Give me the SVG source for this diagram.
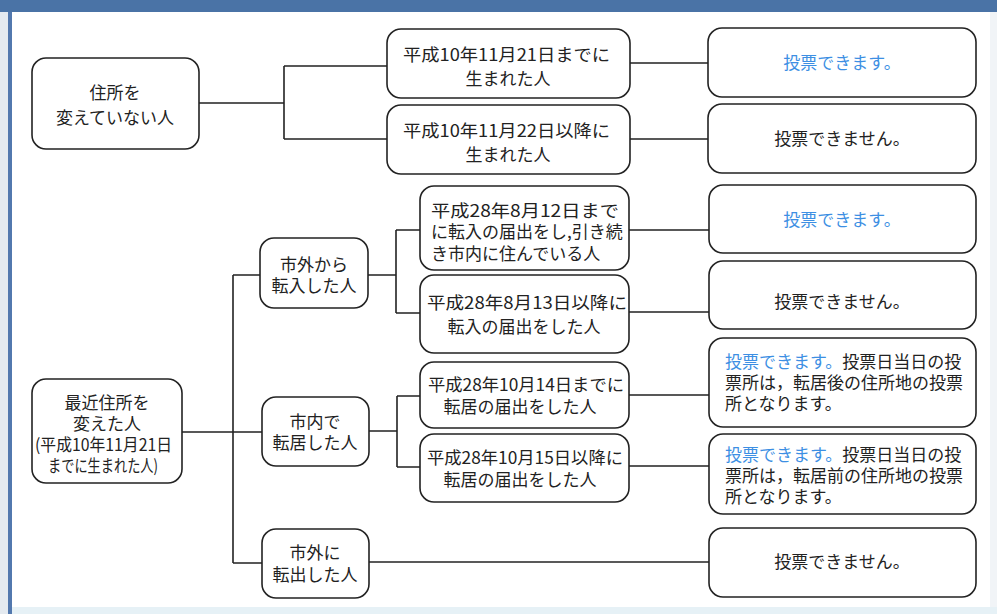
<svg xmlns="http://www.w3.org/2000/svg" width="997" height="614" viewBox="0 0 997 614">
<style>
.box{fill:#fff;stroke:#222;stroke-width:1.6}
.t{font-family:"Noto Sans CJK JP","Noto Sans CJK SC",sans-serif;font-size:17px;fill:#222}
.c{text-anchor:middle}
.blue{fill:#3d8fe3}
.con{fill:none;stroke:#222;stroke-width:1.6}
</style>
<rect x="0" y="0" width="997" height="614" fill="#fff"/>
<rect x="0" y="0" width="997" height="12" fill="#4a73a6"/>
<rect x="0" y="12" width="8" height="602" fill="#e4eaf0"/>
<rect x="8" y="12" width="4" height="602" fill="#5278ae"/>
<rect x="990" y="12" width="7" height="602" fill="#f1f4f7"/>
<rect x="12" y="607" width="985" height="7" fill="#e6f1f6"/>

<g id="connectors" class="con">
<path d="M199,103H284M284,66V139M284,66H387M284,139H387"/>
<path d="M630,63H708M630,139H708"/>
<path d="M182,432H233M233,275V563M233,275H260M233,432H262M233,563H262"/>
<path d="M368,275H396M396,230V313M396,230H420M396,313H420"/>
<path d="M629,230H709M629,312H709"/>
<path d="M369,431H397M397,396V467M397,396H420M397,467H420"/>
<path d="M629,395H709M629,466H709"/>
<path d="M369,562H709"/>
</g>

<g id="n-nochange">
<rect class="box" x="32" y="58" width="167" height="91" rx="14"/>
<text class="t c" x="115" y="99">住所を</text>
<text class="t c" x="115" y="124">変えていない人</text>
</g>
<g id="n-born-before">
<rect class="box" x="387" y="29" width="243" height="69" rx="14"/>
<text class="t" x="403" y="61" textLength="207" lengthAdjust="spacingAndGlyphs">平成10年11月21日までに</text>
<text class="t c" x="508" y="85">生まれた人</text>
</g>
<g id="n-born-after">
<rect class="box" x="387" y="105" width="243" height="69" rx="14"/>
<text class="t" x="403" y="137" textLength="207" lengthAdjust="spacingAndGlyphs">平成10年11月22日以降に</text>
<text class="t c" x="508" y="161">生まれた人</text>
</g>
<g id="r1">
<rect class="box" x="708" y="28" width="268" height="69" rx="14"/>
<text class="t c blue" x="842" y="69">投票できます。</text>
</g>
<g id="r2">
<rect class="box" x="708" y="104" width="268" height="69" rx="14"/>
<text class="t c" x="842" y="145">投票できません。</text>
</g>

<g id="n-moved">
<rect class="box" x="32" y="379" width="150" height="104" rx="14"/>
<text class="t c" x="107" y="409">最近住所を</text>
<text class="t c" x="107" y="430">変えた人</text>
<text class="t" x="35" y="451" textLength="137" lengthAdjust="spacingAndGlyphs">(平成10年11月21日</text>
<text class="t" x="48" y="472" textLength="110" lengthAdjust="spacingAndGlyphs">までに生まれた人)</text>
</g>
<g id="n-in">
<rect class="box" x="260" y="238" width="108" height="70" rx="14"/>
<text class="t c" x="314" y="271">市外から</text>
<text class="t c" x="314" y="292">転入した人</text>
</g>
<g id="n-within">
<rect class="box" x="262" y="397" width="107" height="69" rx="14"/>
<text class="t c" x="315" y="428">市内で</text>
<text class="t c" x="315" y="449">転居した人</text>
</g>
<g id="n-out">
<rect class="box" x="262" y="529" width="107" height="69" rx="14"/>
<text class="t c" x="315" y="559">市外に</text>
<text class="t c" x="315" y="581">転出した人</text>
</g>

<g id="n-in-before">
<rect class="box" x="420" y="186" width="209" height="84" rx="14"/>
<text class="t" x="431" y="217" textLength="188" lengthAdjust="spacingAndGlyphs">平成28年8月12日まで</text>
<text class="t" x="431" y="238">に転入の届出をし,引き続</text>
<text class="t" x="431" y="260">き市内に住んでいる人</text>
</g>
<g id="n-in-after">
<rect class="box" x="420" y="275" width="209" height="78" rx="14"/>
<text class="t" x="427" y="309" textLength="200" lengthAdjust="spacingAndGlyphs">平成28年8月13日以降に</text>
<text class="t c" x="524" y="333">転入の届出をした人</text>
</g>
<g id="n-within-before">
<rect class="box" x="420" y="362" width="209" height="66" rx="14"/>
<text class="t" x="428" y="391" textLength="196" lengthAdjust="spacingAndGlyphs">平成28年10月14日までに</text>
<text class="t c" x="520" y="413">転居の届出をした人</text>
</g>
<g id="n-within-after">
<rect class="box" x="420" y="434" width="209" height="68" rx="14"/>
<text class="t" x="427" y="464" textLength="196" lengthAdjust="spacingAndGlyphs">平成28年10月15日以降に</text>
<text class="t c" x="520" y="486">転居の届出をした人</text>
</g>

<g id="r3">
<rect class="box" x="709" y="185" width="267" height="68" rx="14"/>
<text class="t c blue" x="842" y="226">投票できます。</text>
</g>
<g id="r4">
<rect class="box" x="709" y="261" width="267" height="68" rx="14"/>
<text class="t c" x="842" y="308">投票できません。</text>
</g>
<g id="r5">
<rect class="box" x="709" y="338" width="267" height="89" rx="14"/>
<text class="t" x="725" y="368"><tspan class="blue">投票できます。</tspan>投票日当日の投</text>
<text class="t" x="725" y="389">票所は，転居後の住所地の投票</text>
<text class="t" x="725" y="410">所となります。</text>
</g>
<g id="r6">
<rect class="box" x="709" y="434" width="267" height="80" rx="14"/>
<text class="t" x="725" y="461"><tspan class="blue">投票できます。</tspan>投票日当日の投</text>
<text class="t" x="725" y="482">票所は，転居前の住所地の投票</text>
<text class="t" x="725" y="503">所となります。</text>
</g>
<g id="r7">
<rect class="box" x="709" y="528" width="267" height="69" rx="14"/>
<text class="t c" x="842" y="568">投票できません。</text>
</g>
</svg>
